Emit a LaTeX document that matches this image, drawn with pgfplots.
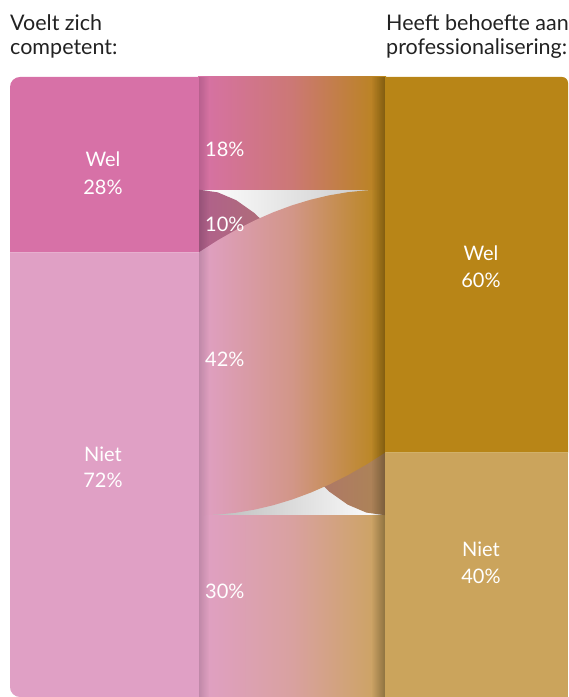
\documentclass[border=0pt]{standalone}
\usepackage{pgfplots}
\pgfplotsset{compat=1.18}
\usepackage{fontspec}
\setmainfont{Lato}
\usetikzlibrary{fadings}
\tikzfading[name=fadeR, left color=transparent!100, right color=transparent!0]
\tikzfading[name=fadeL, left color=transparent!0, right color=transparent!100]
\definecolor{welL}{HTML}{D771A7}
\definecolor{nietL}{HTML}{E0A0C5}
\definecolor{welR}{HTML}{B88517}
\definecolor{nietR}{HTML}{CBA45C}
\definecolor{tenL}{HTML}{B0608C}
\definecolor{tenR}{HTML}{AD8554}
\definecolor{midA}{HTML}{CC7875}
\definecolor{midB}{HTML}{D9A1A0}
\definecolor{midC}{HTML}{D29688}
\definecolor{hdr}{HTML}{222222}
\pgfdeclarehorizontalshading{sA}{100bp}{color(0bp)=(welL); color(25bp)=(welL); color(50bp)=(midA); color(75bp)=(welR); color(100bp)=(welR)}
\pgfdeclarehorizontalshading{sB}{100bp}{color(0bp)=(nietL); color(25bp)=(nietL); color(50bp)=(midB); color(75bp)=(nietR); color(100bp)=(nietR)}
\pgfdeclarehorizontalshading{sC}{100bp}{color(0bp)=(nietL); color(25bp)=(nietL); color(50bp)=(midC); color(75bp)=(welR); color(100bp)=(welR)}
\begin{document}
\begin{tikzpicture}
\begin{axis}[width=568pt,height=697pt,scale only axis,
  xmin=0,xmax=568,ymin=-12.3,ymax=99.04,y dir=reverse,
  hide axis,clip=false]
% lens backgrounds
\addplot[draw=none,left color=white,right color=black!22] coordinates {(199,18) (385,18) (385,30) (199,30)} -- cycle;
\addplot[draw=none,left color=black!28,right color=white] coordinates {(199,58) (385,58) (385,70) (199,70)} -- cycle;
\addplot[black!30,line width=0.8pt] coordinates {(199,18) (385,18)};
\addplot[black!30,line width=0.8pt] coordinates {(199,70) (385,70)};
% straight flows: 18% (wel -> wel) and 30% (niet -> niet)
\addplot[draw=none,shade,shading=sA] coordinates {(198,0) (386,0) (386,18) (198,18)} -- cycle;
\addplot[draw=none,shade,shading=sB] coordinates {(198,70) (386,70) (386,99.04) (198,99.04)} -- cycle;
% 10% flow (wel -> niet)
\addplot[draw=none,left color=tenL,right color=tenR] coordinates {
(199,18) (217.6,18.42) (236.2,19.68) (254.8,21.78) (273.4,24.72) (292,28.5) (310.6,33.12) (329.2,38.58) (347.8,44.88) (366.4,52.02) (385,60)
(385,70) (366.4,69.58) (347.8,68.32) (329.2,66.22) (310.6,63.28) (292,59.5) (273.4,54.88) (254.8,49.42) (236.2,43.12) (217.6,35.98) (199,28)} -- cycle;
% 42% flow (niet -> wel)
\addplot[draw=none,shade,shading=sC] coordinates {
(199,28) (217.6,26.1) (236.2,24.4) (254.8,22.9) (273.4,21.6) (292,20.5) (310.6,19.6) (329.2,18.9) (347.8,18.4) (366.4,18.1) (385,18)
(385,60) (366.4,61.9) (347.8,63.6) (329.2,65.1) (310.6,66.4) (292,67.5) (273.4,68.4) (254.8,69.1) (236.2,69.6) (217.6,69.9) (199,70)} -- cycle;
% left column
\addplot[draw=none,fill=welL] coordinates {(199,0) (20,0) (16.17,0.12) (12.93,0.47) (10.76,0.99) (10,1.6) (10,28) (199,28)} -- cycle;
\addplot[draw=none,fill=nietL] coordinates {(10,28) (10,97.44) (10.76,98.05) (12.93,98.57) (16.17,98.92) (20,99.04) (199,99.04) (199,28)} -- cycle;
% right column
\addplot[draw=none,fill=welR] coordinates {(385,0) (562,0) (564.3,0.07) (566.24,0.28) (567.54,0.59) (568,0.96) (568,60) (385,60)} -- cycle;
\addplot[draw=none,fill=nietR] coordinates {(385,60) (568,60) (568,99.04) (385,99.04)} -- cycle;
% shadow strips
\addplot[draw=none,fill=black,fill opacity=0.14,path fading=fadeL] coordinates {(199,0) (209,0) (209,99.04) (199,99.04)} -- cycle;
\addplot[draw=none,fill=black,fill opacity=0.30,path fading=fadeR] coordinates {(371,0) (385,0) (385,99.04) (371,99.04)} -- cycle;
% labels
\tikzset{lab/.style={anchor=base,text=white,inner sep=0pt,font=\fontsize{20}{24}\selectfont},
 pct/.style={anchor=base west,text=white,inner sep=0pt,font=\fontsize{20}{24}\selectfont},
 hd/.style={anchor=base west,text=hdr,inner sep=0pt,font=\fontsize{21.5}{26}\selectfont}}
\node[hd] at (axis cs:10,-7.35) {Voelt zich};
\node[hd] at (axis cs:10,-3.67) {competent:};
\node[hd] at (axis cs:386,-7.35) {Heeft behoefte aan};
\node[hd] at (axis cs:386,-3.67) {professionalisering:};
\node[lab] at (axis cs:103,14.22) {Wel};
\node[lab] at (axis cs:103,18.69) {28\%};
\node[lab] at (axis cs:103,61.45) {Niet};
\node[lab] at (axis cs:103,65.65) {72\%};
\node[lab] at (axis cs:481,29.39) {Wel};
\node[lab] at (axis cs:481,33.6) {60\%};
\node[lab] at (axis cs:481,76.63) {Niet};
\node[lab] at (axis cs:481,80.83) {40\%};
\node[pct] at (axis cs:205,12.7) {18\%};
\node[pct] at (axis cs:205,24.6) {10\%};
\node[pct] at (axis cs:205,46.17) {42\%};
\node[pct] at (axis cs:205,83.27) {30\%};
\end{axis}
\pgfresetboundingbox
\path (current axis.south west) rectangle (current axis.north east);
\end{tikzpicture}
\end{document}
